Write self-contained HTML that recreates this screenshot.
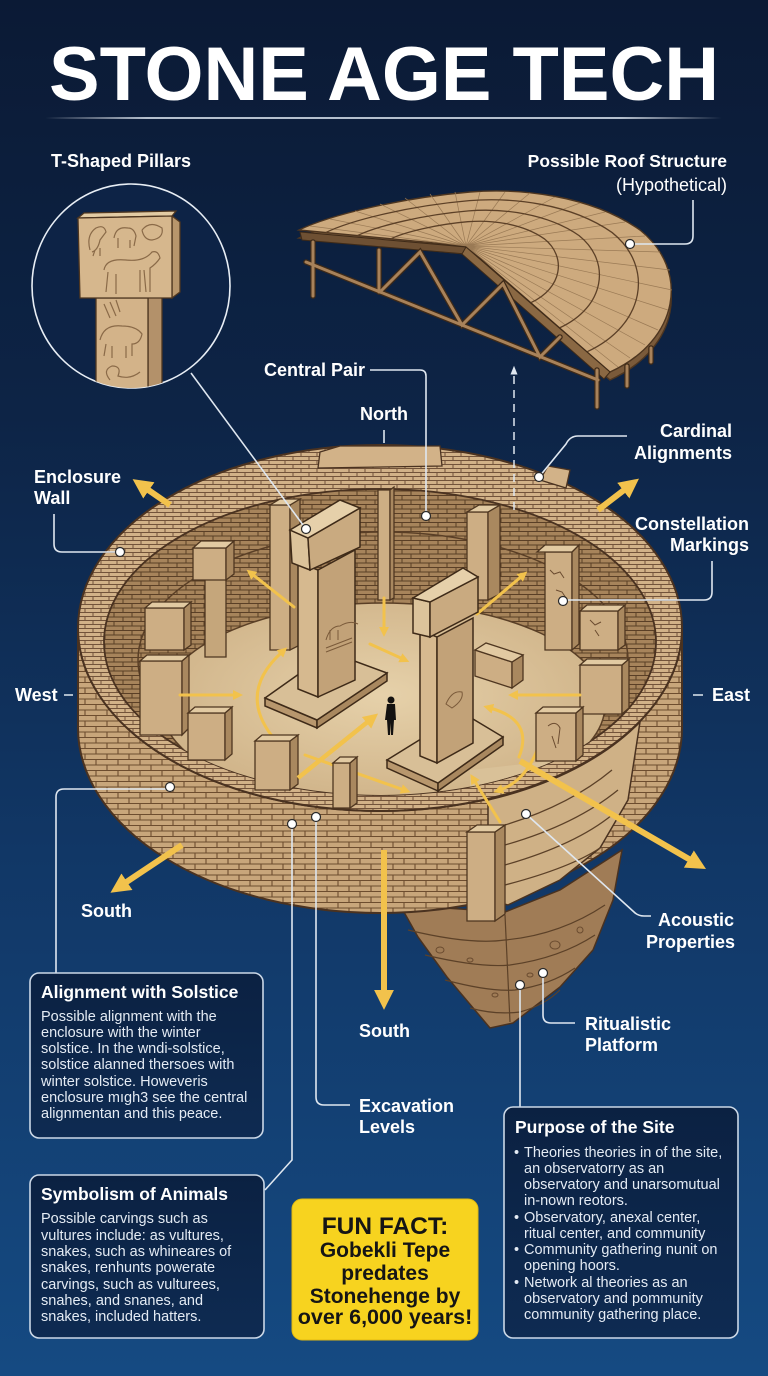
<!DOCTYPE html>
<html><head><meta charset="utf-8"><style>
html,body{margin:0;padding:0;}
body{width:768px;height:1376px;overflow:hidden;background:linear-gradient(180deg,#0b1a35 0%,#0d2446 30%,#113766 62%,#154a82 100%);}
svg{display:block;}
text{font-family:"Liberation Sans",Arial,sans-serif;}
</style></head><body>
<svg width="768" height="1376" viewBox="0 0 768 1376" xmlns="http://www.w3.org/2000/svg">
<defs>
 <pattern id="bk" width="22" height="11" patternUnits="userSpaceOnUse">
  <rect width="22" height="11" fill="#c8a67b"/>
  <path d="M0 .5H22M0 6H22M8 .5V6M19 6V11" stroke="#6d4d2f" stroke-width="1.1" fill="none"/>
 </pattern>
 <pattern id="bkr" width="16" height="8" patternUnits="userSpaceOnUse">
  <rect width="16" height="8" fill="#d2b288"/>
  <path d="M0 .5H16M0 4.5H16M5 .5V4.5M13 4.5V8" stroke="#72533a" stroke-width="1" fill="none"/>
 </pattern>
 <pattern id="bkd" width="18" height="9" patternUnits="userSpaceOnUse">
  <rect width="18" height="9" fill="#a7845b"/>
  <path d="M0 .5H18M0 5H18M6 .5V5M15 5V9" stroke="#5a3f26" stroke-width="1" fill="none"/>
 </pattern>
 <radialGradient id="fl" cx="50%" cy="45%" r="60%">
  <stop offset="0" stop-color="#e6d1aa"/><stop offset="1" stop-color="#cdb085"/>
 </radialGradient>
 <linearGradient id="tl" x1="0" x2="1" y1="0" y2="0">
  <stop offset="0" stop-color="#ffffff" stop-opacity="0"/>
  <stop offset="0.15" stop-color="#dfe8f3" stop-opacity="0.8"/>
  <stop offset="0.85" stop-color="#dfe8f3" stop-opacity="0.8"/>
  <stop offset="1" stop-color="#ffffff" stop-opacity="0"/>
 </linearGradient>
 <linearGradient id="bx" x1="0" x2="0" y1="0" y2="1">
  <stop offset="0" stop-color="#0b2142"/><stop offset="1" stop-color="#0e2b52"/>
 </linearGradient>
 <clipPath id="inner"><ellipse cx="380" cy="642" rx="276" ry="153"/></clipPath>
 <clipPath id="circ"><ellipse cx="131" cy="286" rx="99" ry="102"/></clipPath>
 <marker id="ah" viewBox="0 0 10 10" refX="3" refY="5" markerWidth="3.3" markerHeight="3.3" orient="auto">
  <path d="M0,0 L10,5 L0,10 z" fill="#f2c24c"/>
 </marker>
 <marker id="ahw" viewBox="0 0 10 10" refX="3" refY="5" markerWidth="6" markerHeight="6" orient="auto">
  <path d="M0,1 L10,5 L0,9 z" fill="#dfe7f0"/>
 </marker>
</defs>

<!-- Title -->
<text x="384" y="100" text-anchor="middle" font-size="76" font-weight="700" fill="#ffffff" textLength="670" lengthAdjust="spacingAndGlyphs">STONE AGE TECH</text>
<rect x="45" y="117" width="677" height="2" fill="url(#tl)"/>

<!-- Labels top -->
<text x="51" y="167" font-size="18" font-weight="700" fill="#fff">T-Shaped Pillars</text>
<text x="727" y="167" font-size="17.5" font-weight="700" fill="#fff" text-anchor="end">Possible Roof Structure</text>
<text x="727" y="191" font-size="18" fill="#fff" text-anchor="end">(Hypothetical)</text>

<!-- Circle inset -->
<ellipse cx="131" cy="286" rx="99" ry="102" fill="#0d2346" stroke="#e8eef5" stroke-width="1.6"/>
<g clip-path="url(#circ)" stroke="#4e3620" stroke-width="1.3">
 <polygon points="148,298 162,290 162,400 148,400" fill="#b3916a"/>
 <polygon points="96,298 148,298 148,400 96,400" fill="#d3b389"/>
 <polygon points="172,216 180,222 180,292 172,298" fill="#b8966c"/>
 <polygon points="78,218 84,213 176,211 172,216" fill="#e2cba4"/>
 <polygon points="78,218 172,216 172,298 80,298" fill="#d6b78d"/>
 <g fill="none" stroke="#8a6a48" stroke-width="1.2">
  <path d="M90,250 Q86,235 96,228 Q104,224 106,232 L100,240 Q98,250 92,252 M95,250 L93,256 M100,248 L100,256"/>
  <path d="M114,238 Q116,226 128,228 Q134,228 136,236 L134,246 M118,238 L118,248 M130,240 L130,248"/>
  <path d="M142,230 Q150,220 162,228 Q164,238 152,240 Q144,240 142,230"/>
  <path d="M104,270 Q106,258 126,260 Q144,262 152,252 Q158,250 160,258 Q156,264 150,268 L150,292 M108,272 L106,292 M116,274 L116,294 M140,270 L140,292 M144,270 L146,292"/>
  <path d="M100,340 Q104,324 122,326 Q136,326 142,334 Q140,344 132,344 L132,356 M106,344 L104,356 M112,346 L112,358 M126,346 L126,358"/>
  <path d="M110,380 Q102,370 112,366 Q122,366 118,376 Q130,380 140,372"/>
  <path d="M104,304 L110,318 M110,302 L116,316 M116,300 L120,312"/>
 </g>
</g>

<!-- Roof -->
<g stroke="#4e3620" stroke-width="1.4">
 <path d="M299,238 L466,254 L610,380 C680,348 690,278 640,238 C590,203 520,196 470,200 C400,206 330,223 299,238 Z" fill="#7a5a3a"/>
 <path d="M299,230 L466,246 L610,372 C680,340 690,270 640,230 C590,195 520,188 470,192 C400,198 330,215 299,230 Z" fill="#cdaa7e"/>
</g>
<g stroke="#9a7a55" stroke-width="0.7" fill="none">
 <path d="M466,246 L310,226 M466,246 L330,219 M466,246 L355,211 M466,246 L380,204 M466,246 L405,198 M466,246 L430,194 M466,246 L455,192 M466,246 L480,192 M466,246 L505,192 M466,246 L530,193 M466,246 L555,197 M466,246 L580,203 M466,246 L605,212 M466,246 L625,222 M466,246 L645,236 M466,246 L660,252 M466,246 L670,270 M466,246 L672,290 M466,246 L668,310 M466,246 L658,330 M466,246 L645,345 M466,246 L630,358 M466,246 L618,367"/>
</g>
<g fill="none" stroke="#5c4027" stroke-width="1.3">
 <path vector-effect="non-scaling-stroke" transform="translate(466,246) scale(0.45) translate(-466,-246)" d="M610,372 C680,340 690,270 640,230 C590,195 520,188 470,192 C400,198 330,215 299,230"/>
 <path vector-effect="non-scaling-stroke" transform="translate(466,246) scale(0.65) translate(-466,-246)" d="M610,372 C680,340 690,270 640,230 C590,195 520,188 470,192 C400,198 330,215 299,230"/>
 <path vector-effect="non-scaling-stroke" transform="translate(466,246) scale(0.84) translate(-466,-246)" d="M610,372 C680,340 690,270 640,230 C590,195 520,188 470,192 C400,198 330,215 299,230"/>
</g>
<polygon points="300,232 466,247 466,254 302,240" fill="#6e5033" stroke="#3e2a18" stroke-width="1"/>
<polygon points="466,247 610,372 604,379 462,254" fill="#8a6843" stroke="#3e2a18" stroke-width="1"/>
<g stroke-linecap="round">
 <g stroke="#3e2a18" stroke-width="5.5" fill="none">
  <path d="M306,262 L598,380 M313,242 V296 M379,250 V292 M382,290 L420,252 L462,325 L503,284 L540,357 L560,337 M597,370 V407 M627,366 V386 M651,348 V362"/>
 </g>
 <g stroke="#a8825a" stroke-width="3" fill="none">
  <path d="M306,262 L598,380 M313,242 V296 M379,250 V292 M382,290 L420,252 L462,325 L503,284 L540,357 L560,337 M597,370 V407 M627,366 V386 M651,348 V362"/>
 </g>
</g>

<!-- Labels mid top -->
<text x="264" y="376" font-size="18" font-weight="700" fill="#fff">Central Pair</text>
<text x="384" y="420" font-size="18" font-weight="700" fill="#fff" text-anchor="middle">North</text>
<text x="732" y="437" font-size="18" font-weight="700" fill="#fff" text-anchor="end">Cardinal</text>
<text x="732" y="459" font-size="18" font-weight="700" fill="#fff" text-anchor="end">Alignments</text>
<text x="34" y="483" font-size="18" font-weight="700" fill="#fff">Enclosure</text>
<text x="34" y="504" font-size="18" font-weight="700" fill="#fff">Wall</text>
<text x="749" y="530" font-size="18" font-weight="700" fill="#fff" text-anchor="end">Constellation</text>
<text x="749" y="551" font-size="18" font-weight="700" fill="#fff" text-anchor="end">Markings</text>
<text x="15" y="701" font-size="18" font-weight="700" fill="#fff">West</text>
<text x="712" y="701" font-size="18" font-weight="700" fill="#fff">East</text>
<text x="81" y="917" font-size="18" font-weight="700" fill="#fff">South</text>
<text x="734" y="926" font-size="18" font-weight="700" fill="#fff" text-anchor="end">Acoustic</text>
<text x="735" y="948" font-size="18" font-weight="700" fill="#fff" text-anchor="end">Properties</text>
<text x="359" y="1037" font-size="18" font-weight="700" fill="#fff">South</text>
<text x="585" y="1030" font-size="18" font-weight="700" fill="#fff">Ritualistic</text>
<text x="585" y="1051" font-size="18" font-weight="700" fill="#fff">Platform</text>
<text x="359" y="1112" font-size="18" font-weight="700" fill="#fff">Excavation</text>
<text x="359" y="1133" font-size="18" font-weight="700" fill="#fff">Levels</text>

<!-- Earth cutout -->
<path d="M400,905 L418,937 L447,977 L490,1028 L513,1023 L560,987 L593,950 L613,900 L622,850 L560,890 L505,912 Z" fill="#a07c56" stroke="#4a3220" stroke-width="1.5"/>
<g fill="none" stroke="#5c4128" stroke-width="1.2">
 <path d="M408,930 Q470,945 505,940 Q560,935 605,905"/>
 <path d="M425,955 Q480,968 510,965 Q560,958 595,935"/>
 <path d="M445,980 Q490,992 515,990 Q550,985 575,968"/>
 <path d="M470,1008 Q495,1015 520,1012 Q545,1005 560,990"/>
 <path d="M505,915 L510,1022"/>
</g>
<g fill="none" stroke="#6b4c30" stroke-width="1">
 <ellipse cx="440" cy="950" rx="4" ry="3"/><ellipse cx="470" cy="960" rx="3" ry="2"/><ellipse cx="555" cy="945" rx="5" ry="4"/>
 <ellipse cx="530" cy="975" rx="3" ry="2"/><ellipse cx="580" cy="930" rx="3" ry="3"/><ellipse cx="495" cy="995" rx="3" ry="2"/>
</g>

<!-- Wall body -->
<path d="M78,628 A302,183 0 0 0 682,628 L682,728 A302,185 0 0 1 78,728 Z" fill="url(#bk)" stroke="#4a3220" stroke-width="2"/>
<!-- stairs / cut at right front -->
<path d="M488,800 A302,183 0 0 0 640,722 L628,800 L600,848 L560,880 L508,905 L488,900 Z" fill="#cfb186" stroke="#4a3220" stroke-width="1.5"/>
<g fill="none" stroke="#5c4128" stroke-width="1.3">
 <path d="M505,825 Q570,805 612,770"/>
 <path d="M505,845 Q575,825 618,790"/>
 <path d="M505,865 Q575,845 612,815"/>
 <path d="M505,885 Q570,868 600,848"/>
</g>
<!-- rim -->
<ellipse cx="380" cy="628" rx="302" ry="183" fill="url(#bkr)" stroke="#4a3220" stroke-width="2"/>
<!-- inner wall -->
<ellipse cx="380" cy="642" rx="276" ry="153" fill="url(#bkd)" stroke="#4a3220" stroke-width="1.8"/>
<g clip-path="url(#inner)">
 <ellipse cx="383" cy="660" rx="245" ry="128" fill="none" stroke="#5a3f26" stroke-width="1.5"/>
 <ellipse cx="383" cy="705" rx="222" ry="102" fill="url(#fl)" stroke="#5a3f26" stroke-width="1.5"/>
 <path d="M470,770 L560,760 L610,740 L640,700 L650,800 L470,820 Z" fill="#d9c198"/>
</g>
<!-- parapet blocks on top -->
<path d="M318,468 L320,452 L340,446 L440,446 L442,466 Z" fill="#d2b288" stroke="#4a3220" stroke-width="1.3"/>
<path d="M540,480 L548,466 L570,470 L566,488 Z" fill="#d2b288" stroke="#4a3220" stroke-width="1.3"/>

<!-- back & side pillars -->
<g stroke="#4e3620" stroke-width="1.3">
 <polygon points="270,505 290,505 290,650 270,650" fill="#cdae84"/><polygon points="290,505 300,499 300,645 290,650" fill="#a9885f"/><polygon points="270,505 280,499 300,499 290,505" fill="#e2caa2"/>
 <polygon points="378,490 390,490 390,600 378,600" fill="#cdae84"/><polygon points="390,490 394,487 394,598 390,600" fill="#a9885f"/>
 <polygon points="467,512 488,512 488,600 467,600" fill="#cdae84"/><polygon points="488,512 500,505 500,594 488,600" fill="#a9885f"/><polygon points="467,512 479,505 500,505 488,512" fill="#e2caa2"/>
 <polygon points="205,578 226,578 226,657 205,657" fill="#c5a67b"/>
 <polygon points="193,548 226,548 226,580 193,580" fill="#cdae84"/><polygon points="226,548 234,541 234,574 226,580" fill="#a9885f"/><polygon points="193,548 201,541 234,541 226,548" fill="#e2caa2"/>
 <polygon points="145,608 184,608 184,650 145,650" fill="#cdae84"/><polygon points="184,608 191,602 191,645 184,650" fill="#a9885f"/><polygon points="145,608 152,602 191,602 184,608" fill="#e2caa2"/>
 <polygon points="140,661 182,661 182,735 140,735" fill="#cdae84"/><polygon points="182,661 189,655 189,728 182,735" fill="#a9885f"/><polygon points="140,661 147,655 189,655 182,661" fill="#e2caa2"/>
 <polygon points="545,552 572,552 572,650 545,650" fill="#cdae84"/><polygon points="572,552 579,545 579,644 572,650" fill="#a9885f"/><polygon points="537,552 545,545 579,545 572,552" fill="#e2caa2"/>
 <polygon points="580,611 618,611 618,650 580,650" fill="#cdae84"/><polygon points="618,611 625,605 625,645 618,650" fill="#a9885f"/><polygon points="580,611 587,605 625,605 618,611" fill="#e2caa2"/>
 <polygon points="580,665 622,665 622,714 580,714" fill="#cdae84"/><polygon points="622,665 629,659 629,708 622,714" fill="#a9885f"/><polygon points="580,665 587,659 629,659 622,665" fill="#e2caa2"/>
 <polygon points="475,650 512,662 512,688 475,676" fill="#cdae84"/><polygon points="512,662 523,655 523,680 512,688" fill="#a9885f"/><polygon points="475,650 486,643 523,655 512,662" fill="#e2caa2"/>
</g>
<g fill="none" stroke="#6b4c30" stroke-width="1">
 <path d="M550,570 l4,4 l6,-2 l4,6 M556,590 l6,2 l4,6 M590,620 l5,5 l6,-3 M595,630 l4,6"/>
 <path d="M548,725 q6,-8 12,0 l0,14 M552,730 l0,10"/>
</g>

<!-- inner arrows -->
<g stroke="#f2c24c" stroke-width="3" fill="none" marker-end="url(#ah)" stroke-linecap="round">
 <path d="M294,607 L252,574"/>
 <path d="M477,614 L522,576"/>
 <path d="M384,598 L384,630"/>
 <path d="M370,644 L403,659"/>
 <path d="M180,695 L236,695"/>
 <path d="M580,695 L515,695"/>
 <path d="M272,736 Q238,692 282,652"/>
 <path d="M519,757 Q534,720 490,708"/>
 <path d="M305,755 L404,790"/>
 <path d="M500,822 L474,780"/>
 <path d="M540,742 Q528,780 500,790"/>
</g>

<!-- central left pillar -->
<g stroke="#3e2a18" stroke-width="1.5">
 <polygon points="265,698 317,720 317,728 265,706" fill="#b8976d"/>
 <polygon points="317,720 387,673 387,681 317,728" fill="#a9885f"/>
 <polygon points="265,698 330,652 387,673 317,720" fill="#d8bf97"/>
 <polygon points="298,562 318,570 318,697 298,689" fill="#d6b98f"/>
 <polygon points="318,570 355,550 355,680 318,697" fill="#c2a278"/>
 <polygon points="290,530 308,538 310,570 292,563" fill="#dcc39b"/>
 <polygon points="308,538 360,508 360,547 310,570" fill="#c9aa80"/>
 <polygon points="290,530 340,500 360,508 308,538" fill="#e6d0aa"/>
</g>
<path d="M326,640 q4,-14 14,-14 q10,-6 18,-2 M330,640 v-10 M338,640 v-10 M326,648 l26,-10 M326,652 l26,-10" fill="none" stroke="#7a5a3a" stroke-width="1"/>
<!-- central right pillar -->
<g stroke="#3e2a18" stroke-width="1.5">
 <polygon points="387,760 438,783 438,791 387,768" fill="#b8976d"/>
 <polygon points="438,783 503,737 503,745 438,791" fill="#a9885f"/>
 <polygon points="387,760 463,713 503,737 438,783" fill="#d8bf97"/>
 <polygon points="420,630 437,637 437,763 420,756" fill="#d6b98f"/>
 <polygon points="437,637 473,618 473,743 437,763" fill="#c2a278"/>
 <polygon points="413,598 430,602 430,637 413,633" fill="#dcc39b"/>
 <polygon points="430,602 478,577 478,612 430,637" fill="#c9aa80"/>
 <polygon points="413,598 463,568 478,577 430,602" fill="#e6d0aa"/>
</g>
<path d="M446,704 q6,-14 16,-12 q2,8 -10,16 z" fill="none" stroke="#7a5a3a" stroke-width="1"/>
<!-- person -->
<g fill="#141210">
 <circle cx="391" cy="700" r="3.5"/>
 <path d="M387,704 h8 l1,16 h-2 l-1,15 h-2 l0,-12 l-1,12 h-2 l-1,-15 h-2 z"/>
</g>

<!-- front pillars -->
<g stroke="#4e3620" stroke-width="1.3">
 <polygon points="188,713 225,713 225,760 188,760" fill="#cdae84"/><polygon points="225,713 232,707 232,754 225,760" fill="#a9885f"/><polygon points="188,713 195,707 232,707 225,713" fill="#e2caa2"/>
 <polygon points="255,741 290,741 290,790 255,790" fill="#cdae84"/><polygon points="290,741 298,735 298,784 290,790" fill="#a9885f"/><polygon points="255,741 262,735 298,735 290,741" fill="#e2caa2"/>
 <polygon points="333,763 350,763 350,808 333,808" fill="#cdae84"/><polygon points="350,763 357,757 357,803 350,808" fill="#a9885f"/><polygon points="333,763 340,757 357,757 350,763" fill="#e2caa2"/>
 <polygon points="536,713 576,713 576,761 536,761" fill="#cdae84"/><polygon points="576,713 583,707 583,755 576,761" fill="#a9885f"/><polygon points="536,713 543,707 583,707 576,713" fill="#e2caa2"/>
 <polygon points="467,832 495,832 495,921 467,921" fill="#cdae84"/><polygon points="495,832 505,825 505,914 495,921" fill="#a9885f"/><polygon points="467,832 477,825 505,825 495,832" fill="#e2caa2"/>
</g>
<path d="M548,726 q8,-6 12,2 l-2,16 M552,736 l4,12" fill="none" stroke="#6b4c30" stroke-width="1"/>
<!-- big central arrow -->
<path d="M298,778 L370,720" stroke="#f2c24c" stroke-width="4.5" fill="none" marker-end="url(#ah)"/>

<!-- outside arrows -->
<g stroke="#f2c24c" stroke-width="6" fill="none" marker-end="url(#ah)">
 <path d="M170,505 L144,487"/>
 <path d="M598,510 L628,487"/>
 <path d="M182,845 L122,885"/>
 <path d="M520,761 L694,862"/>
 <path d="M384,850 L384,996"/>
</g>

<!-- leader lines -->
<g stroke="#dfe7f0" stroke-width="1.6" fill="none">
 <path d="M693,200 V236 Q693,244 685,244 H634"/>
 <path d="M191,373 L306,529"/>
 <path d="M370,370 H420 Q426,370 426,376 V516"/>
 <path d="M384,430 V443"/>
 <path d="M54,514 V544 Q54,552 62,552 H120"/>
 <path d="M627,436 H578 Q570,436 566,444 L539,477"/>
 <path d="M712,561 V592 Q712,600 704,600 H563"/>
 <path d="M64,695 H73 M693,695 H703"/>
 <path d="M56,973 V797 Q56,789 64,789 H170"/>
 <path d="M316,817 V1097 Q316,1105 324,1105 H350"/>
 <path d="M292,824 V1160 L265,1190"/>
 <path d="M543,973 V1015 Q543,1023 551,1023 H575"/>
 <path d="M520,985 V1108"/>
 <path d="M526,814 L634,912 Q638,916 644,916 H651"/>
</g>
<path d="M514,510 V372" stroke="#dfe7f0" stroke-width="1.5" stroke-dasharray="8 6" fill="none" marker-end="url(#ahw)"/>
<g fill="#ffffff" stroke="#2a2a2a" stroke-width="1.2">
 <circle cx="630" cy="244" r="4.5"/><circle cx="306" cy="529" r="4.5"/><circle cx="426" cy="516" r="4.5"/>
 <circle cx="120" cy="552" r="4.5"/><circle cx="539" cy="477" r="4.5"/><circle cx="563" cy="601" r="4.5"/>
 <circle cx="170" cy="787" r="4.5"/><circle cx="316" cy="817" r="4.5"/><circle cx="292" cy="824" r="4.5"/>
 <circle cx="543" cy="973" r="4.5"/><circle cx="520" cy="985" r="4.5"/><circle cx="526" cy="814" r="4.5"/>
</g>

<!-- Alignment box -->
<rect x="30" y="973" width="233" height="165" rx="9" fill="url(#bx)" stroke="#cbd8e7" stroke-width="1.6"/>
<text x="41" y="998" font-size="17.5" font-weight="700" fill="#fff">Alignment with Solstice</text>
<g font-size="14.5" fill="#e4ebf4">
 <text x="41" y="1021">Possible alignment with the</text>
 <text x="41" y="1037">enclosure with the winter</text>
 <text x="41" y="1053">solstice. In the wndi-solstice,</text>
 <text x="41" y="1069">solstice alanned thersoes with</text>
 <text x="41" y="1086">winter solstice. Howeveris</text>
 <text x="41" y="1102">enclosure mıgh3 see the central</text>
 <text x="41" y="1118">alignmentan and this peace.</text>
</g>

<!-- Symbolism box -->
<rect x="30" y="1175" width="234" height="163" rx="9" fill="url(#bx)" stroke="#cbd8e7" stroke-width="1.6"/>
<text x="41" y="1200" font-size="17.5" font-weight="700" fill="#fff">Symbolism of Animals</text>
<g font-size="14.5" fill="#e4ebf4">
 <text x="41" y="1223">Possible carvings such as</text>
 <text x="41" y="1240">vultures include: as vultures,</text>
 <text x="41" y="1256">snakes, such as whineares of</text>
 <text x="41" y="1272">snakes, renhunts powerate</text>
 <text x="41" y="1289">carvings, such as vulturees,</text>
 <text x="41" y="1305">snahes, and snanes, and</text>
 <text x="41" y="1321">snakes, included hatters.</text>
</g>

<!-- Fun fact -->
<rect x="292" y="1199" width="186" height="141" rx="10" fill="#f7d31f" stroke="#e0b810" stroke-width="1"/>
<g font-weight="700" fill="#151515" text-anchor="middle">
 <text x="385" y="1234" font-size="24.5">FUN FACT:</text>
 <text x="385" y="1257" font-size="21">Gobekli Tepe</text>
 <text x="385" y="1280" font-size="21">predates</text>
 <text x="385" y="1303" font-size="21">Stonehenge by</text>
 <text x="385" y="1324" font-size="21.5">over 6,000 years!</text>
</g>

<!-- Purpose box -->
<rect x="504" y="1107" width="234" height="231" rx="9" fill="url(#bx)" stroke="#cbd8e7" stroke-width="1.6"/>
<text x="515" y="1133" font-size="17.5" font-weight="700" fill="#fff">Purpose of the Site</text>
<g font-size="14.5" fill="#e4ebf4">
 <text x="514" y="1157">•</text>
 <text x="524" y="1157">Theories theories in of the site,</text>
 <text x="524" y="1173">an observatorry as an</text>
 <text x="524" y="1189">observatory and unarsomutual</text>
 <text x="524" y="1205">in-nown reotors.</text>
 <text x="514" y="1222">•</text>
 <text x="524" y="1222">Observatory, anexal center,</text>
 <text x="524" y="1238">ritual center, and community</text>
 <text x="514" y="1254">•</text>
 <text x="524" y="1254">Community gathering nunit on</text>
 <text x="524" y="1270">opening hoors.</text>
 <text x="514" y="1287">•</text>
 <text x="524" y="1287">Network al theories as an</text>
 <text x="524" y="1303">observatory and pommunity</text>
 <text x="524" y="1319">community gathering place.</text>
</g>
</svg>
</body></html>
